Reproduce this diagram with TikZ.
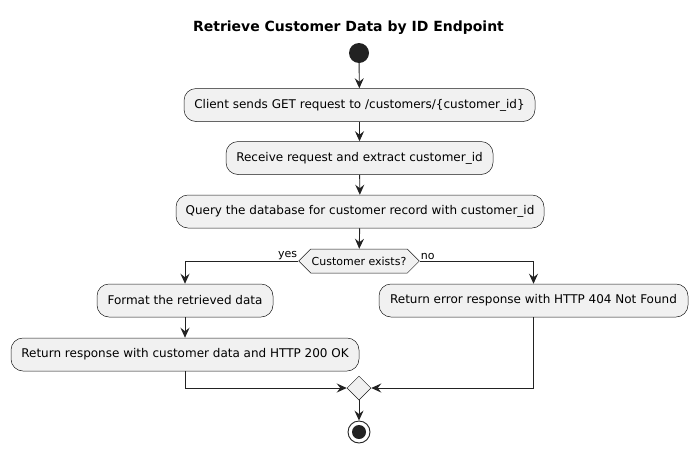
\documentclass[tikz,border=0pt]{standalone}
\usepackage{fontspec}
\setmainfont{DejaVu Sans}
\usetikzlibrary{arrows.meta,shapes.symbols,shapes.geometric}
\definecolor{boxfill}{HTML}{F1F1F1}
\definecolor{boxline}{HTML}{181818}
\definecolor{dark}{HTML}{222222}
\begin{document}
\begin{tikzpicture}[x=1pt,y=-1pt,
  act/.style={draw=boxline,fill=boxfill,line width=0.5pt,rounded corners=12pt,minimum height=33pt,inner xsep=0pt,font=\fontsize{12}{14}\selectfont,anchor=center},
  hexa/.style={draw=boxline,fill=boxfill,line width=0.5pt,signal,signal to=east and west,signal pointer angle=90,minimum height=24pt,minimum width=118pt,inner xsep=1pt,inner ysep=0pt,font=\fontsize{11}{13}\selectfont},
  merge/.style={draw=boxline,fill=boxfill,line width=0.5pt,diamond,minimum width=24pt,minimum height=24pt,inner sep=0pt},
  flow/.style={draw=dark,line width=0.9pt,-{Stealth[length=10pt,width=9pt,inset=3.5pt]}},
  lbl/.style={font=\fontsize{11}{13}\selectfont,inner sep=1pt}
]
\useasboundingbox (0,0) rectangle (698,453);
\node[font=\bfseries\fontsize{14}{16}\selectfont] (title) at (348.5,28) {Retrieve Customer Data by ID Endpoint};
\node[circle,fill=dark,minimum size=20pt,inner sep=0pt] (start) at (359,53) {};
\node[act,minimum width=351pt] (b1) at (359.5,105) {Client sends GET request to /customers/\{customer\_id\}};
\node[act,minimum width=267pt] (b2) at (359.5,158) {Receive request and extract customer\_id};
\node[act,minimum width=368pt] (b3) at (360,211.5) {Query the database for customer record with customer\_id};
\node[hexa] (d) at (359,261) {Customer exists?};
\node[act,minimum width=176pt] (b4) at (185,300.5) {Format the retrieved data};
\node[act,minimum width=348pt] (b5) at (185,354.5) {Return response with customer data and HTTP 200 OK};
\node[act,minimum width=309pt] (b6) at (533.5,300.5) {Return error response with HTTP 404 Not Found};
\node[merge] (m) at (359,388) {};
\node[circle,draw=dark,fill=white,line width=0.9pt,minimum size=22pt,inner sep=0pt] (endo) at (359,432) {};
\node[circle,fill=dark,minimum size=14pt,inner sep=0pt] (endi) at (359,432) {};
\draw[flow] (start) -- (b1);
\draw[flow] (b1) -- (b2);
\draw[flow] (b2) -- (b3);
\draw[flow] (b3) -- (d);
\draw[flow] (d.west) -| (b4.north);
\draw[flow] (d.east) -| (b6.north);
\node[lbl,anchor=south east] (yes) at (d.west) {yes};
\node[lbl,anchor=south west] (no) at (d.east) {no};
\draw[flow] (b4) -- (b5);
\draw[flow] (b5.south) |- (m.west);
\draw[flow] (b6.south) |- (m.east);
\draw[flow] (m) -- (endo);
\end{tikzpicture}
\end{document}
